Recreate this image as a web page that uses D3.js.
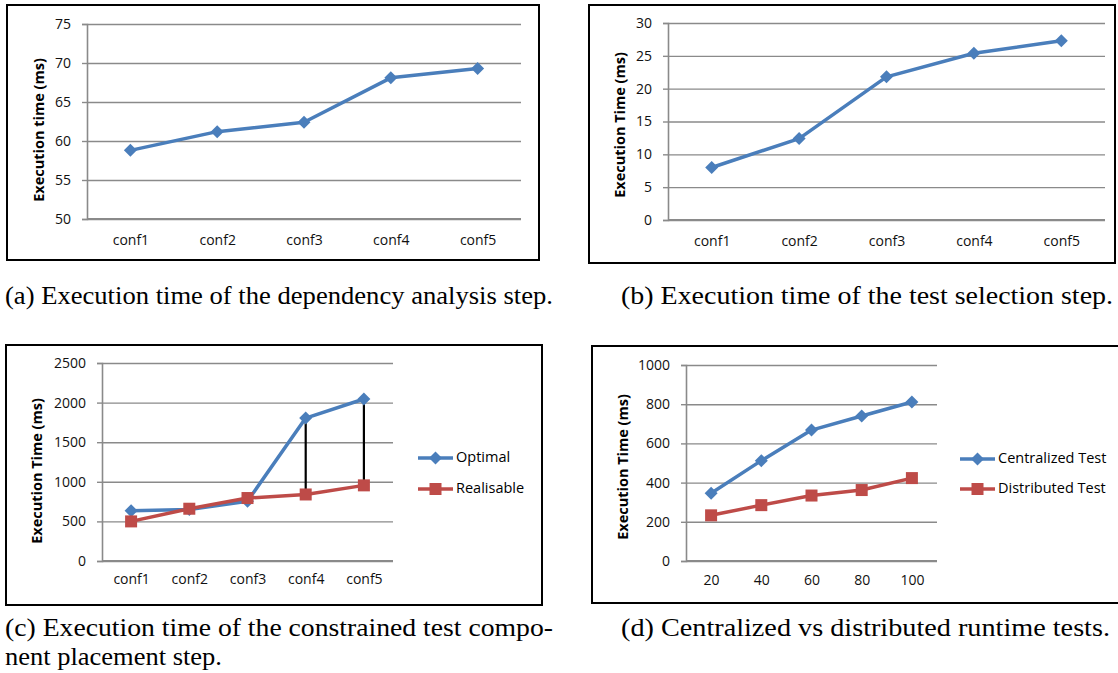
<!DOCTYPE html>
<html><head><meta charset="utf-8">
<script src="https://cdn.jsdelivr.net/npm/d3@7"></script>
<style>
html,body{margin:0;padding:0;background:#fff;}
svg{display:block;}
</style></head>
<body>
<script>
// ---------------- DATA ----------------
const confCategories = ["conf1", "conf2", "conf3", "conf4", "conf5"];
const testCountCategories = ["20", "40", "60", "80", "100"];

const dependencyAnalysisTime = [58.8, 61.2, 62.4, 68.1, 69.3];
const dependencyTicks = [50, 55, 60, 65, 70, 75];

const testSelectionTime = [8.0, 12.4, 21.8, 25.4, 27.3];
const testSelectionTicks = [0, 5, 10, 15, 20, 25, 30];

const placementOptimal = [635, 650, 755, 1805, 2045];
const placementRealisable = [500, 660, 795, 840, 955];
const placementTicks = [0, 500, 1000, 1500, 2000, 2500];

const centralizedTest = [346, 512, 668, 740, 811];
const distributedTest = [233, 285, 334, 362, 423];
const runtimeTicks = [0, 200, 400, 600, 800, 1000];

const captionA = "(a) Execution time of the dependency analysis step.";
const captionB = "(b) Execution time of the test selection step.";
const captionC1 = "(c) Execution time of the constrained test compo-";
const captionC2 = "nent placement step.";
const captionD = "(d) Centralized vs distributed runtime tests.";

// ---------------- STYLE ----------------
const BLUE = "#4A7EBB", RED = "#BE4B48", GRID = "#8a8a8a";
const W = 1118, H = 673;

const svg = d3.select("body").append("svg").attr("width", W).attr("height", H);

function marker(g, shape, color, cx, cy) {
  if (shape === "diamond") {
    const r = 6.5;
    g.append("path")
      .attr("d", `M${cx},${cy - r}L${cx + r},${cy}L${cx},${cy + r}L${cx - r},${cy}Z`)
      .attr("fill", color);
  } else {
    const s = 12;
    g.append("rect").attr("x", cx - s / 2).attr("y", cy - s / 2)
      .attr("width", s).attr("height", s).attr("fill", color);
  }
}

function panel(cfg) {
  const g = svg.append("g");
  g.append("rect").attr("x", cfg.frame[0]).attr("y", cfg.frame[1])
    .attr("width", cfg.frame[2]).attr("height", cfg.frame[3])
    .attr("fill", "none").attr("stroke", "#000").attr("stroke-width", 2);

  const x = d3.scalePoint().domain(cfg.categories).range([cfg.x0, cfg.x1]).padding(0.5);
  const y = d3.scaleLinear().domain(cfg.domain).range([cfg.y1, cfg.y0]);

  const grid = g.append("g").attr("transform", `translate(${cfg.x0},0)`)
    .call(d3.axisLeft(y).tickValues(cfg.ticks).tickSize(-(cfg.x1 - cfg.x0)).tickFormat(""));
  grid.select(".domain").remove();
  grid.selectAll("line").attr("stroke", GRID).attr("stroke-width", 1.4);

  const ya = g.append("g").attr("transform", `translate(${cfg.x0},0)`)
    .call(d3.axisLeft(y).tickValues(cfg.ticks).tickSize(5).tickPadding(11).tickFormat(d3.format("d")));
  ya.select(".domain").attr("stroke", GRID).attr("stroke-width", 1.6);
  ya.selectAll("line").attr("stroke", GRID).attr("stroke-width", 1.4);
  ya.selectAll("text").attr("font-family", "'Open Sans', sans-serif")
    .attr("font-size", 14).attr("fill", "#111");

  const xa = g.append("g").attr("transform", `translate(0,${cfg.y1})`)
    .call(d3.axisBottom(x).tickSize(0).tickPadding(cfg.xPad));
  xa.select(".domain").attr("stroke", GRID).attr("stroke-width", 1.8)
    .attr("d", `M${cfg.x0},0H${cfg.x1}`);
  xa.selectAll("text").attr("font-family", "'Open Sans', sans-serif")
    .attr("font-size", 14).attr("fill", "#111");

  g.append("text")
    .attr("transform", `translate(${cfg.titleX},${cfg.titleY}) rotate(-90)`)
    .attr("text-anchor", "middle").attr("dominant-baseline", "middle")
    .attr("font-family", "'Open Sans', sans-serif").attr("font-weight", "bold")
    .attr("font-size", 14.5).attr("fill", "#000").text(cfg.title);

  const line = d3.line().x((d, i) => x(cfg.categories[i])).y(d => y(d));
  cfg.series.forEach(s => {
    g.append("path").datum(s.values).attr("d", line)
      .attr("fill", "none").attr("stroke", s.color).attr("stroke-width", 3.5)
      .attr("stroke-linejoin", "round");
  });
  if (cfg.dropLines) {
    const [a, b] = cfg.series;
    cfg.categories.forEach((c, i) => {
      g.append("line").attr("x1", x(c)).attr("x2", x(c))
        .attr("y1", y(a.values[i])).attr("y2", y(b.values[i]))
        .attr("stroke", "#000").attr("stroke-width", 2.2);
    });
  }
  cfg.series.forEach(s => {
    s.values.forEach((v, i) => marker(g, s.shape, s.color, x(cfg.categories[i]), y(v)));
  });

  if (cfg.legend) {
    cfg.series.forEach((s, i) => {
      const ly = cfg.legend.y[i];
      g.append("line").attr("x1", cfg.legend.x).attr("x2", cfg.legend.x + 35)
        .attr("y1", ly).attr("y2", ly).attr("stroke", s.color).attr("stroke-width", 3.5);
      marker(g, s.shape, s.color, cfg.legend.x + 17.5, ly);
      g.append("text").attr("x", cfg.legend.x + 38).attr("y", ly)
        .attr("dominant-baseline", "middle")
        .attr("font-family", "'Open Sans', sans-serif").attr("font-size", 14.5)
        .attr("fill", "#000").text(s.name);
    });
  }
}

panel({
  frame: [7, 5, 532, 255], x0: 87, x1: 521, y0: 24, y1: 219, xPad: 16,
  categories: confCategories, domain: [50, 75], ticks: dependencyTicks,
  title: "Execution time (ms)", titleX: 40, titleY: 130,
  series: [{ name: "", values: dependencyAnalysisTime, color: BLUE, shape: "diamond" }]
});
panel({
  frame: [589, 5, 526, 258], x0: 668, x1: 1105, y0: 23, y1: 220, xPad: 16,
  categories: confCategories, domain: [0, 30], ticks: testSelectionTicks,
  title: "Execution Time (ms)", titleX: 621, titleY: 125,
  series: [{ name: "", values: testSelectionTime, color: BLUE, shape: "diamond" }]
});
panel({
  frame: [6, 345, 536, 260], x0: 102, x1: 393, y0: 363, y1: 561, xPad: 13,
  categories: confCategories, domain: [0, 2500], ticks: placementTicks,
  title: "Execution Time (ms)", titleX: 38, titleY: 471, dropLines: true,
  series: [
    { name: "Optimal", values: placementOptimal, color: BLUE, shape: "diamond" },
    { name: "Realisable", values: placementRealisable, color: RED, shape: "square" }
  ],
  legend: { x: 418, y: [458, 489] }
});
panel({
  frame: [592, 346, 540, 257], x0: 686, x1: 937, y0: 365, y1: 561, xPad: 14,
  categories: testCountCategories, domain: [0, 1000], ticks: runtimeTicks,
  title: "Execution Time (ms)", titleX: 624, titleY: 467,
  series: [
    { name: "Centralized Test", values: centralizedTest, color: BLUE, shape: "diamond" },
    { name: "Distributed Test", values: distributedTest, color: RED, shape: "square" }
  ],
  legend: { x: 960, y: [459, 489] }
});

function caption(txt, x, y, w) {
  svg.append("text").attr("x", x).attr("y", y)
    .attr("font-family", "'Liberation Serif', 'Times New Roman', serif")
    .attr("font-size", 25).attr("fill", "#000")
    .attr("textLength", w).attr("lengthAdjust", "spacingAndGlyphs")
    .text(txt);
}
caption(captionA, 5, 304, 548);
caption(captionB, 621, 304, 492);
caption(captionC1, 5, 636, 548);
caption(captionC2, 5, 665, 217);
caption(captionD, 621, 636, 489);
</script>
</body></html>
